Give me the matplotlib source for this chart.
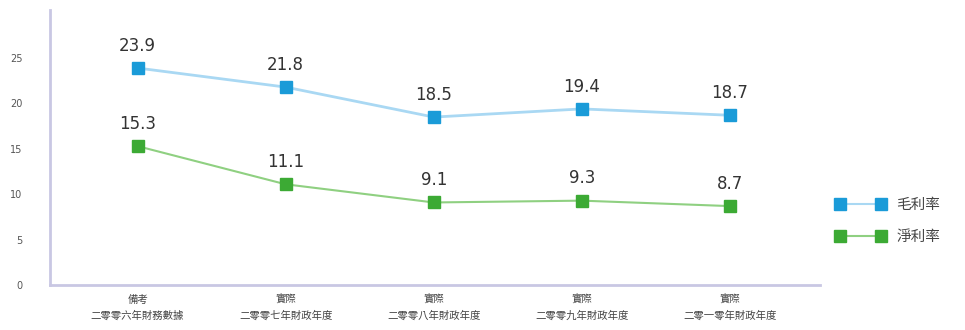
import matplotlib
matplotlib.use("Agg")
import matplotlib.pyplot as plt
from matplotlib.lines import Line2D

plt.rcParams['font.family'] = ['Noto Sans CJK TC', 'DejaVu Sans']

# ------------------- DATA -------------------
categories = [
    "備考\n二零零六年財務數據",
    "實際\n二零零七年財政年度",
    "實際\n二零零八年財政年度",
    "實際\n二零零九年財政年度",
    "實際\n二零一零年財政年度",
]
gross_margin = [23.9, 21.8, 18.5, 19.4, 18.7]
net_margin = [15.3, 11.1, 9.1, 9.3, 8.7]
series_names = ["毛利率", "淨利率"]
y_ticks = [0, 5, 10, 15, 20, 25]

# ------------------- STYLE -------------------
BLUE_LINE = "#a9d8f3"
BLUE_MARK = "#1a9bd8"
GREEN_LINE = "#8fd081"
GREEN_MARK = "#3caa34"
AXIS_COLOR = "#c9c7e3"

fig = plt.figure(figsize=(9.65, 3.3), dpi=100)
ax = fig.add_axes([0.052, 0.136, 0.798, 0.834])

x = list(range(len(categories)))

ax.plot(x, gross_margin, color=BLUE_LINE, linewidth=2.0, zorder=2)
ax.plot(x, gross_margin, linestyle="none", marker="s", markersize=9,
        markerfacecolor=BLUE_MARK, markeredgecolor=BLUE_MARK, zorder=3)
ax.plot(x, net_margin, color=GREEN_LINE, linewidth=1.5, zorder=2)
ax.plot(x, net_margin, linestyle="none", marker="s", markersize=9,
        markerfacecolor=GREEN_MARK, markeredgecolor=GREEN_MARK, zorder=3)

# value labels above each point
for xi, v in zip(x, gross_margin):
    ax.annotate(f"{v}", (xi, v), xytext=(0, 16), textcoords="offset points",
                ha="center", va="center", fontsize=12, color="#333333",
                family="DejaVu Sans")
for xi, v in zip(x, net_margin):
    ax.annotate(f"{v}", (xi, v), xytext=(0, 16), textcoords="offset points",
                ha="center", va="center", fontsize=12, color="#333333",
                family="DejaVu Sans")

ax.set_xlim(-0.59, 4.61)
ax.set_ylim(0, 30.3)
ax.set_yticks(y_ticks)
ax.set_yticklabels([str(t) for t in y_ticks], fontsize=7, color="#555555",
                   family="DejaVu Sans")
ax.set_xticks(x)
ax.set_xticklabels(categories, fontsize=7.5, color="#444444", linespacing=1.7)
ax.tick_params(axis="both", length=0)
ax.tick_params(axis="y", pad=20)
ax.tick_params(axis="x", pad=7)

for side in ["top", "right"]:
    ax.spines[side].set_visible(False)
for side in ["left", "bottom"]:
    ax.spines[side].set_color(AXIS_COLOR)
    ax.spines[side].set_linewidth(2)

# ------------------- LEGEND -------------------
handles = [
    Line2D([0, 1], [0, 0], color=BLUE_LINE, linewidth=1.5, marker="s",
           markersize=8, markerfacecolor=BLUE_MARK, markeredgecolor=BLUE_MARK),
    Line2D([0, 1], [0, 0], color=GREEN_LINE, linewidth=1.5, marker="s",
           markersize=8, markerfacecolor=GREEN_MARK, markeredgecolor=GREEN_MARK),
]
fig.legend(handles, series_names, loc="center left",
           bbox_to_anchor=(0.852, 0.33), frameon=False, numpoints=2,
           handlelength=3.4, fontsize=10.5, labelcolor="#444444",
           labelspacing=1.2, handletextpad=0.8)

plt.savefig("out.png", dpi=100)
plt.close()
